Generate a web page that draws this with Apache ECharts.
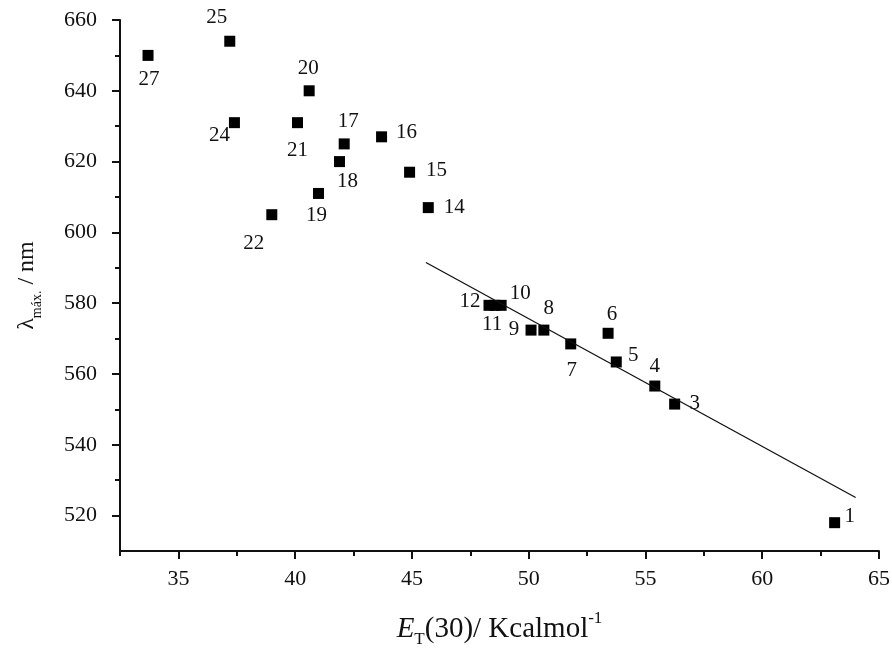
<!DOCTYPE html>
<html>
<head>
<meta charset="utf-8">
<script src="https://cdn.jsdelivr.net/npm/echarts@6/dist/echarts.min.js"></script>
<style>
  html, body { margin: 0; padding: 0; background: #fff; }
  #chart { width: 892px; height: 653px; }
</style>
</head>
<body>
<div id="chart"></div>
<script>
// solvent numbers, E_T(30) and lambda max
var ids     = ['27', '25', '24', '20', '21', '17', '18', '16', '15', '14', '19', '22',
               '12', '11', '10', '9', '8', '7', '6', '5', '4', '3', '1'];
var etVals  = [33.7, 37.2, 37.4, 40.6, 40.1, 42.1, 41.9, 43.7, 44.9, 45.7, 41.0, 39.0,
               48.3, 48.56, 48.82, 50.1, 50.65, 51.8, 53.4, 53.75, 55.4, 56.25, 63.1];
var lamVals = [650, 654, 631, 640, 631, 625, 620, 627, 617, 607, 611, 605,
               579.4, 579.4, 579.4, 572.4, 572.4, 568.5, 571.5, 563.4, 556.6, 551.5, 518];

// linear fit drawn through the polar solvents
var fitX = [45.6, 64.0];
var fitY = [591.5, 525.1];

var xMajor = [35, 40, 45, 50, 55, 60, 65];
var xMinor = [32.5, 37.5, 42.5, 47.5, 52.5, 57.5, 62.5];
var yMajor = [520, 540, 560, 580, 600, 620, 640, 660];
var yMinor = [530, 550, 570, 590, 610, 630, 650];

// where each number sits relative to its square (px)
var labelOffset = {
  '27': [1, 24], '25': [-13, -24], '24': [-15, 13], '20': [-1, -22], '21': [0, 28],
  '17': [4, -22], '18': [8, 20], '16': [25, -4], '15': [27, -2], '14': [26, 0],
  '19': [-2, 22], '22': [-18, 29], '12': [-19, -4], '11': [-3, 19], '10': [19, -12],
  '9': [-17, -1], '8': [5, -22], '7': [1, 27], '6': [4, -19], '5': [17, -6],
  '4': [0, -20], '3': [20, -1], '1': [15, -6]
};

var font = 'Liberation Serif';
var ink = '#111';

var points = ids.map(function (id, i) {
  return {
    value: [etVals[i], lamVals[i]],
    name: id,
    label: { offset: labelOffset[id] }
  };
});

var myChart = echarts.init(document.getElementById('chart'));

var option = {
  backgroundColor: '#fff',
  animation: false,
  grid: { left: 120, right: 13, top: 20, bottom: 102, outerBoundsMode: 'none' },
  xAxis: [
    {
      type: 'value', min: 32.5, max: 65,
      name: '{e|E}{sub|T}{n|(30)/ Kcalmol}{sup|-1}',
      nameLocation: 'middle', nameGap: 59,
      nameTextStyle: {
        fontFamily: font, color: ink,
        rich: {
          e: { fontFamily: font, fontSize: 29, fontStyle: 'italic', lineHeight: 38, verticalAlign: 'middle', color: ink },
          sub: { fontFamily: font, fontSize: 17, lineHeight: 38, verticalAlign: 'bottom', color: ink },
          n: { fontFamily: font, fontSize: 29, lineHeight: 38, verticalAlign: 'middle', color: ink },
          sup: { fontFamily: font, fontSize: 17, lineHeight: 38, verticalAlign: 'top', color: ink }
        }
      },
      axisLine: { onZero: false, lineStyle: { color: ink, width: 2 } },
      axisTick: { customValues: xMajor, length: 8, lineStyle: { color: ink, width: 2 } },
      axisLabel: { customValues: xMajor, margin: 17, fontFamily: font, fontSize: 22, color: ink },
      splitLine: { show: false }
    },
    {
      type: 'value', min: 32.5, max: 65, position: 'bottom',
      axisLine: { show: false },
      axisTick: { customValues: xMinor, length: 5, lineStyle: { color: ink, width: 2 } },
      axisLabel: { show: false },
      splitLine: { show: false }
    }
  ],
  yAxis: [
    {
      type: 'value', min: 510, max: 660,
      name: '{l|λ}{sub|máx.}{n| / nm}',
      nameLocation: 'middle', nameGap: 76,
      nameTextStyle: {
        fontFamily: font, color: ink,
        rich: {
          l: { fontFamily: font, fontSize: 24, lineHeight: 34, verticalAlign: 'middle', color: ink },
          sub: { fontFamily: font, fontSize: 14, lineHeight: 34, verticalAlign: 'bottom', color: ink },
          n: { fontFamily: font, fontSize: 24, lineHeight: 34, verticalAlign: 'middle', color: ink }
        }
      },
      axisLine: { onZero: false, lineStyle: { color: ink, width: 2 } },
      axisTick: { customValues: yMajor, length: 8, lineStyle: { color: ink, width: 2 } },
      axisLabel: { customValues: yMajor, margin: 23, fontFamily: font, fontSize: 22, color: ink },
      splitLine: { show: false }
    },
    {
      type: 'value', min: 510, max: 660, position: 'left',
      axisLine: { show: false },
      axisTick: { customValues: yMinor, length: 5, lineStyle: { color: ink, width: 2 } },
      axisLabel: { show: false },
      splitLine: { show: false }
    }
  ],
  series: [
    {
      type: 'line',
      data: fitX.map(function (x, i) { return [x, fitY[i]]; }),
      symbol: 'none',
      lineStyle: { color: ink, width: 1.3 },
      silent: true
    },
    {
      type: 'scatter',
      data: points,
      symbol: 'rect',
      symbolSize: 11,
      itemStyle: { color: '#000', opacity: 1 },
      label: {
        show: true,
        position: 'inside',
        formatter: '{b}',
        fontFamily: font,
        fontSize: 21,
        color: ink,
        opacity: 1
      }
    }
  ]
};

myChart.setOption(option);
</script>
</body>
</html>
